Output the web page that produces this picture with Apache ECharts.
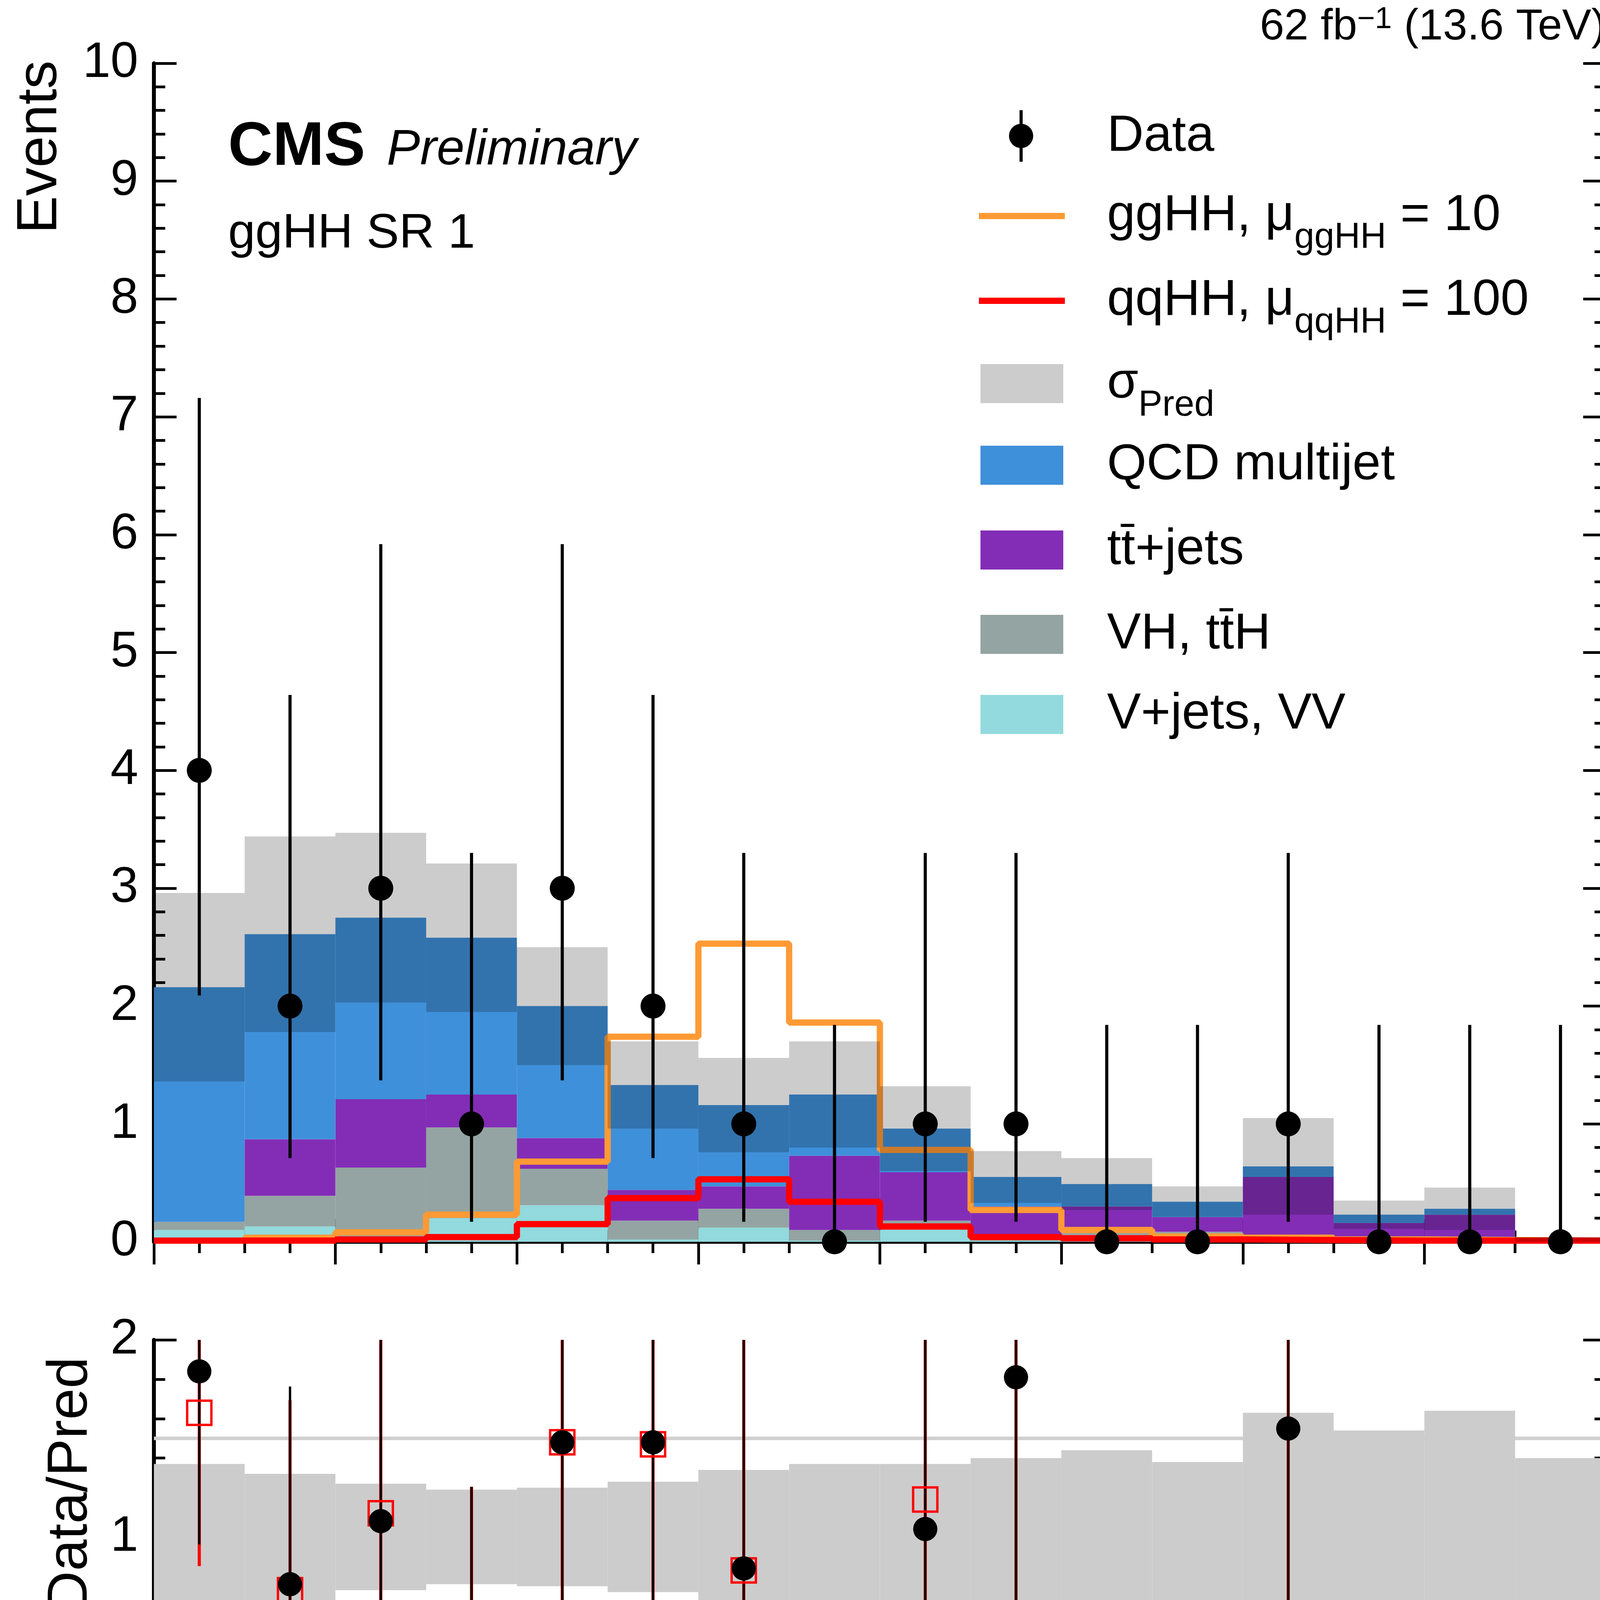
<!DOCTYPE html>
<html><head><meta charset="utf-8">
<script src="https://cdn.jsdelivr.net/npm/echarts@6/dist/echarts.min.js"></script>
<style>html,body{margin:0;padding:0;background:#fff}#c{width:4223px;height:6062px}</style>
</head><body><div id="c"></div>
<script>
// ---- data ----
const binEdges = [60,70,80,90,100,110,120,130,140,150,160,170,180,190,200,210,220];
const vjets = [0.10,0.13,0.04,0.20,0.31,0.02,0.12,0.01,0.10,0.01,0.01,0.01,0.01,0.00,0.00,0.00];
const vhtth = [0.07,0.26,0.59,0.77,0.31,0.16,0.16,0.09,0.08,0.01,0.07,0.075,0.04,0.02,0.02,0.01];
const ttjets = [0.00,0.48,0.58,0.28,0.26,0.26,0.19,0.63,0.41,0.28,0.22,0.125,0.50,0.14,0.21,0.005];
const qcd = [1.99,1.74,1.54,1.33,1.12,0.89,0.69,0.52,0.37,0.25,0.19,0.13,0.09,0.07,0.05,0.005];
const sigmaPred = [0.80,0.83,0.72,0.63,0.50,0.37,0.40,0.45,0.36,0.22,0.22,0.13,0.41,0.12,0.18,0.02];
const ggHH = [0.01,0.035,0.08,0.23,0.68,1.74,2.53,1.86,0.78,0.27,0.10,0.045,0.035,0.02,0.015,0.01];
const qqHH = [0.01,0.01,0.02,0.04,0.15,0.37,0.53,0.34,0.13,0.04,0.03,0.02,0.015,0.01,0.01,0.01];
const dataCounts = [4,2,3,1,3,2,1,0,1,1,0,0,1,0,0,0];
const dataErrLo = [1.91,1.29,1.63,0.83,1.63,1.29,0.83,0,0.83,0.83,0,0,0.83,0,0,0];
const dataErrHi = [3.16,2.64,2.92,2.30,2.92,2.64,2.30,1.84,2.30,2.30,1.84,1.84,2.30,1.84,1.84,1.84];
const ratioPostfit = [1.84,0.76,1.08,0.38,1.48,1.48,0.84,0,1.04,1.81,0,0,1.55,0,0,0];
const ratioPrefit = [1.63,0.73,1.12,0.38,1.48,1.47,0.83,0,1.19,null,0,0,null,0,0,0];
const ratioBandHalf = [0.37,0.32,0.27,0.24,0.25,0.28,0.34,0.37,0.37,0.40,0.44,0.38,0.63,0.54,0.64,0.40];
const pulls = [0.91,-0.44,0.13,-1.59,0.57,0.45,-0.18,-1.26,0.04,0.45,-0.48,-0.35,0.36,-0.22,-0.27,-0.02];
const mainYTicks = [0,10,1];
const colors = {vjets:'#92dadd', vh:'#94a4a2', tt:'#832db6', qcd:'#3f90da', gg:'#ff9a35', qq:'#ff0000'};

// ---- build ----
const FONT = 'Liberation Sans';
const nb = dataCounts.length;
const centers = dataCounts.map((_, i) => (binEdges[i] + binEdges[i+1]) / 2);
const comps = [[vjets, colors.vjets], [vhtth, colors.vh], [ttjets, colors.tt], [qcd, colors.qcd]];
const cum = new Array(nb).fill(0);
const stackRects = [];
comps.forEach(([arr, col]) => {
  for (let i = 0; i < nb; i++) {
    stackRects.push({value: [binEdges[i], binEdges[i+1], cum[i], cum[i] + arr[i]], itemStyle: {color: col}});
    cum[i] += arr[i];
  }
});
const total = cum.slice();
const bandRects = total.map((t, i) => [binEdges[i], binEdges[i+1], Math.max(0, t - sigmaPred[i]), t + sigmaPred[i]]);
const ratioBand = ratioBandHalf.map((h, i) => [binEdges[i], binEdges[i+1], 1 - h, 1 + h]);
const pullRects = pulls.map((p, i) => [binEdges[i], binEdges[i+1], Math.min(0, p), Math.max(0, p)]);
function stepData(arr) { const d = arr.map((v, i) => [binEdges[i], v]); d.push([binEdges[nb], arr[nb-1]]); return d; }
const mainErr = dataCounts.map((n, i) => [centers[i], n - dataErrLo[i], n + dataErrHi[i]]);
const postErr = [], preErr = [];
dataCounts.forEach((n, i) => {
  if (n > 0) {
    postErr.push([centers[i], ratioPostfit[i] * (1 - dataErrLo[i]/n), ratioPostfit[i] * (1 + dataErrHi[i]/n)]);
    if (ratioPrefit[i] != null) preErr.push([centers[i], ratioPrefit[i] * (1 - dataErrLo[i]/n), ratioPrefit[i] * (1 + dataErrHi[i]/n)]);
    else preErr.push([centers[i], ratioPostfit[i] * (1 - dataErrLo[i]/n) * 1.1, 5]);
  }
});

function rectRender(fill) {
  return function (params, api) {
    const p0 = api.coord([api.value(0), api.value(2)]);
    const p1 = api.coord([api.value(1), api.value(3)]);
    return {type: 'rect', shape: {x: p0[0], y: p1[1], width: p1[0] - p0[0], height: p0[1] - p1[1]},
      style: {fill: fill || api.visual('color')}};
  };
}
function errRender(color, w) {
  return function (params, api) {
    const a = api.coord([api.value(0), api.value(1)]);
    const b = api.coord([api.value(0), api.value(2)]);
    return {type: 'line', shape: {x1: a[0], y1: a[1], x2: b[0], y2: b[1]}, style: {stroke: color, lineWidth: w}};
  };
}
const grids = [
  {left: 394, right: 112, top: 162, height: 3017},
  {left: 394, right: 112, top: 3430, height: 1009},
  {left: 394, right: 112, top: 4691, height: 1009}
];
const AX = {lineStyle: {color: '#000', width: 10}};
const xAxes = [], yAxes = [];
grids.forEach((g, gi) => {
  ['bottom', 'top'].forEach(pos => {
    xAxes.push({type: 'value', gridIndex: gi, position: pos, min: 60, max: 220, interval: 20,
      axisLine: AX, splitLine: {show: false},
      axisTick: {inside: true, length: 58, lineStyle: {width: 7, color: '#000'}},
      minorTick: {show: true, splitNumber: 4, length: 29, lineStyle: {width: 7, color: '#000'}},
      axisLabel: {show: gi === 2 && pos === 'bottom', fontSize: 128, fontFamily: FONT, color: '#000', margin: 30}});
  });
  const yr = gi === 0 ? {min: mainYTicks[0], max: mainYTicks[1], interval: mainYTicks[2], split: 5}
    : gi === 1 ? {min: 0, max: 2, interval: 1, split: 5} : {min: -2, max: 2, interval: 2, split: 4};
  ['left', 'right'].forEach(pos => {
    yAxes.push({type: 'value', gridIndex: gi, position: pos, min: yr.min, max: yr.max, interval: yr.interval,
      axisLine: AX, splitLine: {show: false},
      axisTick: {inside: true, length: 58, lineStyle: {width: 7, color: '#000'}},
      minorTick: {show: true, splitNumber: yr.split, length: 29, lineStyle: {width: 7, color: '#000'}},
      axisLabel: {show: pos === 'left', fontSize: 128, fontFamily: FONT, color: '#000', margin: 40}});
  });
});
const ax = gi => ({xAxisIndex: gi * 2, yAxisIndex: gi * 2});
const series = [
  Object.assign({type: 'custom', renderItem: rectRender(), data: stackRects, encode: {x: [0, 1], y: [2, 3]}, clip: true}, ax(0)),
  Object.assign({type: 'line', step: 'end', data: stepData(ggHH), showSymbol: false, lineStyle: {color: colors.gg, width: 16}, z: 3}, ax(0)),
  Object.assign({type: 'line', step: 'end', data: stepData(qqHH), showSymbol: false, lineStyle: {color: colors.qq, width: 16}, z: 3}, ax(0)),
  Object.assign({type: 'custom', renderItem: rectRender('rgba(0,0,0,0.2)'), data: bandRects, encode: {x: [0, 1], y: [2, 3]}, clip: true, z: 4}, ax(0)),
  Object.assign({type: 'custom', renderItem: errRender('#000', 8), data: mainErr, encode: {x: 0, y: [1, 2]}, clip: true, z: 5}, ax(0)),
  Object.assign({type: 'scatter', data: dataCounts.map((n, i) => [centers[i], n]), symbolSize: 64, itemStyle: {color: '#000', opacity: 1}, z: 6, clip: false}, ax(0)),
  // ratio
  Object.assign({type: 'line', data: [[60, 0.5], [220, 0.5]], showSymbol: false, lineStyle: {color: '#d0d0d0', width: 9}, z: 1}, ax(1)),
  Object.assign({type: 'line', data: [[60, 1.5], [220, 1.5]], showSymbol: false, lineStyle: {color: '#d0d0d0', width: 9}, z: 1}, ax(1)),
  Object.assign({type: 'custom', renderItem: rectRender('#cccccc'), data: ratioBand, encode: {x: [0, 1], y: [2, 3]}, clip: true, z: 2}, ax(1)),
  Object.assign({type: 'custom', renderItem: errRender('#ff0000', 8), data: preErr, encode: {x: 0, y: [1, 2]}, clip: true, z: 3}, ax(1)),
  Object.assign({type: 'custom', renderItem: errRender('#000', 6), data: postErr, encode: {x: 0, y: [1, 2]}, clip: true, z: 4}, ax(1)),
  Object.assign({type: 'scatter', data: ratioPrefit.map((r, i) => r == null ? null : [centers[i], r]).filter(d => d), symbol: 'rect', symbolSize: 62,
    itemStyle: {color: 'rgba(0,0,0,0)', borderColor: '#ff0000', borderWidth: 6, opacity: 1}, z: 5, clip: false}, ax(1)),
  Object.assign({type: 'scatter', data: ratioPostfit.map((r, i) => [centers[i], r]), symbolSize: 62, itemStyle: {color: '#000', opacity: 1}, z: 6, clip: false}, ax(1)),
  // pull
  Object.assign({type: 'line', data: [[60, 1], [220, 1]], showSymbol: false, lineStyle: {color: '#d0d0d0', width: 9}, z: 1}, ax(2)),
  Object.assign({type: 'line', data: [[60, -1], [220, -1]], showSymbol: false, lineStyle: {color: '#d0d0d0', width: 9}, z: 1}, ax(2)),
  Object.assign({type: 'custom', renderItem: rectRender('#cccccc'), data: pullRects, encode: {x: [0, 1], y: [2, 3]}, clip: true, z: 2}, ax(2))
];

const F = 130;
const txt = (x, y, text, extra) => Object.assign({type: 'text', x, y, z: 20,
  style: Object.assign({text, fontSize: F, fontFamily: FONT, fill: '#000', textVerticalAlign: 'middle'}, extra || {})});
const sub = {sub: {fontSize: 92, fontFamily: FONT, verticalAlign: 'bottom', padding: [0, 0, -38, 0]}};
const legRect = (y, fill) => ({type: 'rect', shape: {x: 2510, y: y - 50, width: 212, height: 100}, style: {fill}, z: 20});
const graphics = [
  txt(584, 378, 'CMS', {fontWeight: 'bold', fontSize: 158}),
  txt(990, 385, 'Preliminary', {fontStyle: 'italic', fontSize: 128}),
  txt(584, 600, 'ggHH SR 1', {fontSize: 125}),
  {type: 'text', x: 4111, y: 70, z: 20, style: {text: '62 fb{sup|−1} (13.6 TeV)', fontSize: 112, fontFamily: FONT, fill: '#000', align: 'right', verticalAlign: 'middle',
    rich: {sup: {fontSize: 78, fontFamily: FONT, verticalAlign: 'top', padding: [0, 0, 40, 0]}}}},
  // legend
  {type: 'line', shape: {x1: 2614, y1: 282, x2: 2614, y2: 414}, style: {stroke: '#000', lineWidth: 8}, z: 20},
  {type: 'circle', shape: {cx: 2614, cy: 348, r: 31}, style: {fill: '#000'}, z: 21},
  txt(2834, 350, 'Data'),
  {type: 'line', shape: {x1: 2506, y1: 553, x2: 2726, y2: 553}, style: {stroke: colors.gg, lineWidth: 16}, z: 20},
  {type: 'text', x: 2834, y: 553, z: 20, style: {text: 'ggHH, μ{sub|ggHH} = 10', fontSize: F, fontFamily: FONT, fill: '#000', verticalAlign: 'middle', rich: sub}},
  {type: 'line', shape: {x1: 2506, y1: 770, x2: 2726, y2: 770}, style: {stroke: colors.qq, lineWidth: 16}, z: 20},
  {type: 'text', x: 2834, y: 770, z: 20, style: {text: 'qqHH, μ{sub|qqHH} = 100', fontSize: F, fontFamily: FONT, fill: '#000', verticalAlign: 'middle', rich: sub}},
  legRect(982, '#cccccc'),
  {type: 'text', x: 2834, y: 982, z: 20, style: {text: 'σ{sub|Pred}', fontSize: F, fontFamily: FONT, fill: '#000', verticalAlign: 'middle', rich: sub}},
  legRect(1191, colors.qcd), txt(2834, 1191, 'QCD multijet'),
  legRect(1408, colors.tt), txt(2834, 1408, 'tt\u0304+jets'),
  legRect(1624, colors.vh), txt(2834, 1624, 'VH, tt\u0304H'),
  legRect(1829, colors.vjets), txt(2834, 1829, 'V+jets, VV'),
  // axis titles
  txt(104, 155, 'Events', {fontSize: 145, textAlign: 'right'}),
  txt(182, 3800, 'Data/Pred', {fontSize: 145, textAlign: 'center'}),
  {type: 'text', x: 4111, y: 5960, z: 20, style: {text: 'm{sub|reg}(H{sub|2}) (GeV)', fontSize: 140, fontFamily: FONT, fill: '#000', align: 'right', verticalAlign: 'middle',
    rich: {sub: {fontSize: 100, fontFamily: FONT, verticalAlign: 'bottom', padding: [0, 0, -45, 0]}}}},
  {type: 'group', x: 120, y: 5008, rotation: Math.PI / 2, z: 20, children: [
    {type: 'text', x: 0, y: -66, style: {text: 'Data − Pred', fontSize: 108, fontFamily: FONT, fill: '#000', align: 'center', verticalAlign: 'middle'}},
    {type: 'line', shape: {x1: -310, y1: 0, x2: 310, y2: 0}, style: {stroke: '#000', lineWidth: 7}},
    {type: 'text', x: 0, y: 62, style: {text: 'σ{sub|Data}', fontSize: 108, fontFamily: FONT, fill: '#000', align: 'center', verticalAlign: 'middle',
      rich: {sub: {fontSize: 78, fontFamily: FONT, verticalAlign: 'bottom', padding: [0, 0, -30, 0]}}}}
  ]},
  // ratio legend
  {type: 'line', shape: {x1: 2777, y1: 4200, x2: 2777, y2: 4330}, style: {stroke: '#ff0000', lineWidth: 7}, z: 20},
  {type: 'rect', shape: {x: 2746, y: 4234, width: 62, height: 62}, style: {fill: 'none', stroke: '#ff0000', lineWidth: 6}, z: 20},
  txt(2958, 4265, 'Prefit', {fontSize: 110}),
  {type: 'line', shape: {x1: 3519, y1: 4200, x2: 3519, y2: 4330}, style: {stroke: '#000', lineWidth: 7}, z: 20},
  {type: 'circle', shape: {cx: 3519, cy: 4265, r: 31}, style: {fill: '#000'}, z: 21},
  txt(3697, 4265, 'Postfit', {fontSize: 110})
];
graphics.find(g => g.style && g.style.text === 'Events').rotation = Math.PI / 2;
graphics.find(g => g.style && g.style.text === 'Data/Pred').rotation = Math.PI / 2;

const chart = echarts.init(document.getElementById('c'), null, {renderer: 'canvas'});
chart.setOption({animation: false, backgroundColor: '#fff', grid: grids, xAxis: xAxes, yAxis: yAxes, series, graphic: graphics});
</script></body></html>
